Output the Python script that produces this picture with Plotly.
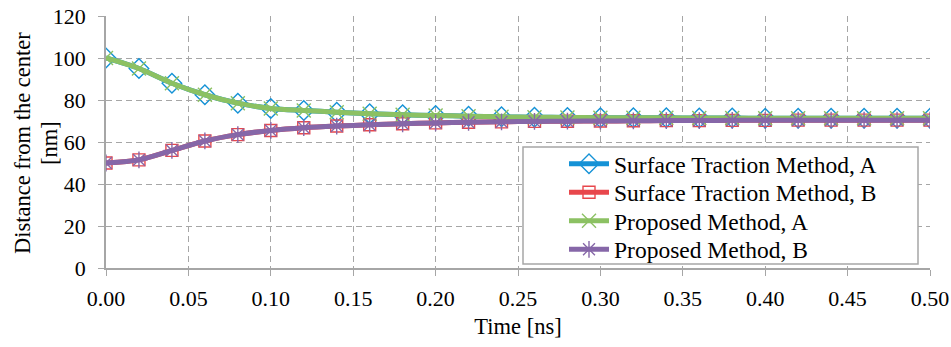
import plotly.graph_objects as go

time_ns = [0.00, 0.02, 0.04, 0.06, 0.08, 0.10, 0.12, 0.14, 0.16, 0.18, 0.20, 0.22, 0.24,
           0.26, 0.28, 0.30, 0.32, 0.34, 0.36, 0.38, 0.40, 0.42, 0.44, 0.46, 0.48, 0.50]

surface_a = [100, 95, 88, 82.5, 78.5, 76, 75, 74.2, 73.5, 73, 72.6, 72.3, 72,
             71.8, 71.7, 71.6, 71.5, 71.5, 71.4, 71.4, 71.3, 71.3, 71.3, 71.3, 71.3, 71.3]
surface_b = [50, 51.5, 56, 60.5, 63.5, 65.5, 66.8, 67.6, 68.2, 68.7, 69.1, 69.4, 69.6,
             69.8, 69.9, 70.0, 70.1, 70.2, 70.2, 70.3, 70.3, 70.4, 70.4, 70.4, 70.4, 70.4]
proposed_a = [100, 95, 88, 82.5, 78.5, 76, 75, 74.2, 73.5, 73, 72.6, 72.3, 72,
              71.8, 71.7, 71.6, 71.5, 71.5, 71.4, 71.4, 71.3, 71.3, 71.3, 71.3, 71.3, 71.3]
proposed_b = [50, 51.5, 56, 60.5, 63.5, 65.5, 66.8, 67.6, 68.2, 68.7, 69.1, 69.4, 69.6,
              69.8, 69.9, 70.0, 70.1, 70.2, 70.2, 70.3, 70.3, 70.4, 70.4, 70.4, 70.4, 70.4]

series_names = ["Surface Traction Method, A", "Surface Traction Method, B",
                "Proposed Method, A", "Proposed Method, B"]
x_tick_vals = [0.00, 0.05, 0.10, 0.15, 0.20, 0.25, 0.30, 0.35, 0.40, 0.45, 0.50]
x_tick_text = ["0.00", "0.05", "0.10", "0.15", "0.20", "0.25", "0.30", "0.35", "0.40", "0.45", "0.50"]
y_tick_vals = [0, 20, 40, 60, 80, 100, 120]

FONT = "'Liberation Serif', 'Times New Roman', Times, serif"
GRID = "#a6a6a6"
W, H = 951, 347
ML, MR, MT, MB = 106, 21, 16, 79
PW, PH = W - ML - MR, H - MT - MB


def px_x(px):
    return (px - ML) / PW


def px_y(py):
    return (H - MB - py) / PH


styles = [
    dict(color="#1592d6", symbol="diamond-open", size=15),
    dict(color="#e8474c", symbol="square-open", size=12),
    dict(color="#8cc163", symbol="x-thin-open", size=14),
    dict(color="#8667a8", symbol="asterisk-open", size=14),
]
legend_ids = ["legend", "legend2", "legend3", "legend4"]
legend_centers = [164, 192.5, 221, 249.5]

fig = go.Figure()
for name, vals, st, lid in zip(series_names, [surface_a, surface_b, proposed_a, proposed_b],
                               styles, legend_ids):
    fig.add_trace(go.Scatter(
        x=time_ns, y=vals, name=name, mode="lines+markers", legend=lid,
        line=dict(color=st["color"], width=5, shape="spline", smoothing=0.8),
        marker=dict(symbol=st["symbol"], size=st["size"], color=st["color"],
                    line=dict(color=st["color"], width=1.4)),
    ))

legend_layout = {}
for lid, yc in zip(legend_ids, legend_centers):
    legend_layout[lid] = dict(
        x=px_x(564), y=px_y(yc), xanchor="left", yanchor="middle",
        bgcolor="rgba(0,0,0,0)", borderwidth=0,
        font=dict(family=FONT, size=23.5, color="black"),
        itemwidth=40,
    )

fig.update_layout(
    width=W, height=H,
    margin=dict(l=ML, r=MR, t=MT, b=MB),
    paper_bgcolor="white", plot_bgcolor="white",
    font=dict(family=FONT, size=22, color="black"),
    showlegend=True,
    xaxis=dict(
        range=[0, 0.5], tickvals=x_tick_vals, ticktext=x_tick_text,
        showgrid=True, gridcolor=GRID, griddash="6px,4px", gridwidth=1.3,
        showline=True, linecolor=GRID, linewidth=1.8,
        ticks="outside", ticklen=6, tickcolor=GRID, tickwidth=1.3,
        zeroline=False, ticklabelstandoff=4, automargin=False,
        title=dict(text="Time [ns]", font=dict(family=FONT, size=22.5), standoff=8),
    ),
    yaxis=dict(
        range=[0, 120], tickvals=y_tick_vals,
        showgrid=True, gridcolor=GRID, griddash="6px,4px", gridwidth=1.3,
        showline=True, linecolor=GRID, linewidth=1.8,
        ticks="outside", ticklen=6, tickcolor=GRID, tickwidth=1.3,
        zeroline=False, ticklabelstandoff=8, automargin=False,
    ),
    shapes=[dict(
        type="rect", xref="paper", yref="paper", layer="above",
        x0=px_x(523), x1=px_x(918), y0=px_y(264), y1=px_y(147),
        fillcolor="white", line=dict(color=GRID, width=1.5),
    )],
    annotations=[
        dict(text="Distance from the center", textangle=-90,
             xref="paper", yref="paper", x=px_x(22.5), y=px_y(143.5),
             xanchor="center", yanchor="middle", showarrow=False,
             font=dict(family=FONT, size=22.5, color="black")),
        dict(text="[nm]", textangle=-90,
             xref="paper", yref="paper", x=px_x(49.5), y=px_y(143.5),
             xanchor="center", yanchor="middle", showarrow=False,
             font=dict(family=FONT, size=22.5, color="black")),
    ],
    **legend_layout,
)

fig.write_html("out.html", config={"displayModeBar": False},
               post_script="document.body.style.margin='0';")
